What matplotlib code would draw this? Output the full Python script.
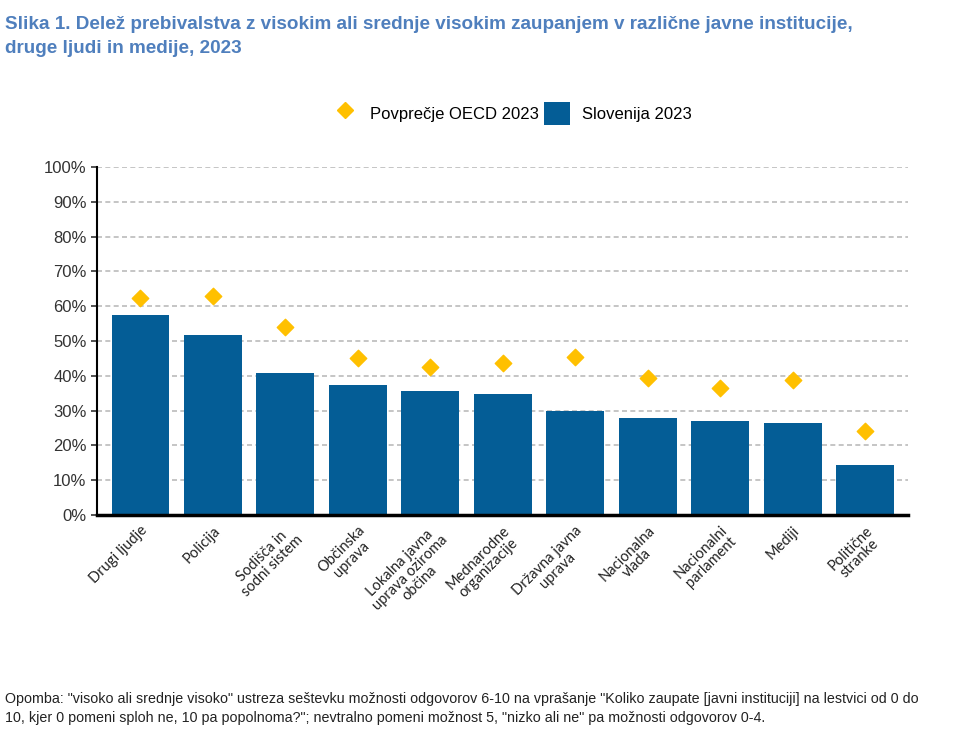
import matplotlib.pyplot as plt
from matplotlib.lines import Line2D
from matplotlib.patches import Patch
from matplotlib.ticker import PercentFormatter

# Data
categories = ["Drugi ljudje", "Policija", "Sodišča in\nsodni sistem", "Občinska\nuprava",
              "Lokalna javna\nuprava oziroma\nobčina", "Mednarodne\norganizacije",
              "Državna javna\nuprava", "Nacionalna\nvlada", "Nacionalni\nparlament",
              "Mediji", "Politične\nstranke"]
slovenija = [57.5, 51.8, 40.9, 37.4, 35.6, 34.8, 29.9, 27.9, 27.0, 26.4, 14.4]
oecd = [62.3, 62.9, 54.0, 45.1, 42.6, 43.7, 45.4, 39.4, 36.5, 38.8, 24.2]

blue = "#045d96"
gold = "#ffc000"
sans = ["Liberation Sans", "DejaVu Sans"]

fig = plt.figure(figsize=(9.8, 7.42), dpi=100)
ax = fig.add_axes([0.099, 0.306, 0.828, 0.469])

x = range(len(categories))
ax.bar(x, slovenija, width=0.8, color=blue, zorder=2)
ax.scatter(x, oecd, marker="D", s=70, color=gold, zorder=3)

ax.set_ylim(0, 100)
ax.set_xlim(-0.6, len(categories) - 0.4)
ax.set_yticks(range(0, 101, 10))
ax.yaxis.set_major_formatter(PercentFormatter(decimals=0))
ax.grid(axis="y", linestyle=(0, (3, 2)), color="#bbbbbb", linewidth=1.2, zorder=0)
ax.set_axisbelow(True)

for s in ["top", "right"]:
    ax.spines[s].set_visible(False)
ax.spines["left"].set_linewidth(1.5)
ax.spines["bottom"].set_linewidth(2.5)
ax.tick_params(axis="y", labelsize=12, colors="#333333", length=4, width=1.2)
for lbl in ax.get_yticklabels():
    lbl.set_family(sans)
ax.tick_params(axis="x", length=0, pad=6)
ax.set_xticks(list(x))
ax.set_xticklabels(categories, rotation=45, ha="right", rotation_mode="anchor",
                   fontsize=10.5, color="#222222", linespacing=1.0,
                   family=["Lato", "DejaVu Sans"])
for lbl in ax.get_xticklabels():
    lbl.set_multialignment("center")

handles = [Line2D([], [], marker="D", color=gold, linestyle="none", markersize=8),
           Patch(facecolor=blue)]
fig.legend(handles, ["Povprečje OECD 2023", "Slovenija 2023"], loc="center",
           bbox_to_anchor=(0.522, 0.847), ncol=2, frameon=False,
           prop={"family": sans, "size": 12},
           handlelength=1.6, handleheight=1.8, columnspacing=0.3, handletextpad=0.7)

fig.text(0.005, 0.978, "Slika 1. Delež prebivalstva z visokim ali srednje visokim zaupanjem v različne javne institucije,\n"
         "druge ljudi in medije, 2023", fontsize=13.6, fontweight="bold", color="#4f7fbd",
         va="top", ha="left", linespacing=1.5, family=sans)

fig.text(0.005, 0.045, 'Opomba: "visoko ali srednje visoko" ustreza seštevku možnosti odgovorov 6-10 na vprašanje '
         '"Koliko zaupate [javni instituciji] na lestvici od 0 do\n10, kjer 0 pomeni sploh ne, 10 pa popolnoma?"; '
         'nevtralno pomeni možnost 5, "nizko ali ne" pa možnosti odgovorov 0-4.',
         fontsize=10.3, color="#222222", va="center", ha="left", linespacing=1.4, family=sans)

fig.savefig("out.png", dpi=100)
